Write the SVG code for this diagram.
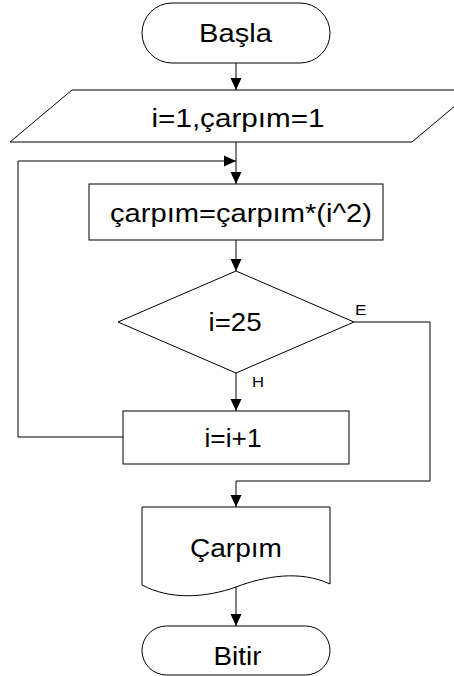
<svg xmlns="http://www.w3.org/2000/svg" width="454" height="676" viewBox="0 0 454 676">
<style>
.s{fill:#fff;stroke:#000;stroke-width:1}
.c{fill:none;stroke:#000;stroke-width:1}
.t{font-family:"Liberation Sans",Arial,sans-serif;font-size:25.5px;fill:#000;text-anchor:middle}
.l{font-family:"Liberation Sans",Arial,sans-serif;font-size:15px;fill:#000}
</style>
<defs>
<marker id="a" markerUnits="userSpaceOnUse" markerWidth="14" markerHeight="14" viewBox="0 0 14 14" refX="13" refY="7" orient="auto">
<path d="M1,1.5 L13,7 L1,12.5 Z" fill="#000"/>
</marker>
</defs>
<rect width="454" height="676" fill="#fff"/>
<g id="connectors">
<line class="c" x1="236" y1="63" x2="236" y2="90" marker-end="url(#a)"/>
<line class="c" x1="236" y1="142" x2="236" y2="184" marker-end="url(#a)"/>
<polyline class="c" points="123,437 18,437 18,161 236,161" marker-end="url(#a)"/>
<line class="c" x1="236" y1="240" x2="236" y2="271" marker-end="url(#a)"/>
<line class="c" x1="236" y1="373" x2="236" y2="411" marker-end="url(#a)"/>
<polyline class="c" points="354,322 430,322 430,481 236,481 236,507" marker-end="url(#a)"/>
<line class="c" x1="236" y1="587" x2="236" y2="626" marker-end="url(#a)"/>
<text class="l" x="355" y="315" textLength="11.5" lengthAdjust="spacingAndGlyphs">E</text>
<text class="l" x="252" y="387" textLength="12" lengthAdjust="spacingAndGlyphs">H</text>
</g>
<g id="basla">
<rect class="s" x="142" y="3" width="188" height="60" rx="30" ry="30"/>
<text class="t" x="235.5" y="42" textLength="73" lengthAdjust="spacingAndGlyphs">Başla</text>
</g>
<g id="init">
<polygon class="s" points="72,90 474,90 412,142 10,142"/>
<text class="t" x="238" y="127" textLength="173" lengthAdjust="spacingAndGlyphs">i=1,çarpım=1</text>
</g>
<g id="multiply">
<rect class="s" x="89" y="184" width="294" height="56"/>
<text class="t" x="241" y="222" textLength="262" lengthAdjust="spacingAndGlyphs">çarpım=çarpım*(i^2)</text>
</g>
<g id="decision">
<polygon class="s" points="236,271 354,322 236,373 118,322"/>
<text class="t" x="235" y="331" textLength="53" lengthAdjust="spacingAndGlyphs">i=25</text>
</g>
<g id="increment">
<rect class="s" x="123" y="411" width="226" height="53"/>
<text class="t" x="233" y="447" textLength="57" lengthAdjust="spacingAndGlyphs">i=i+1</text>
</g>
<g id="output">
<path class="s" d="M142,507 H330 V584 C300,570 265,576 236,587 C205,598 170,600 142,585 Z"/>
<text class="t" x="236" y="557" textLength="92" lengthAdjust="spacingAndGlyphs">Çarpım</text>
</g>
<g id="bitir">
<rect class="s" x="142" y="626" width="188" height="49" rx="24.5" ry="24.5"/>
<text class="t" x="237.5" y="665" textLength="48" lengthAdjust="spacingAndGlyphs">Bitir</text>
</g>
</svg>
